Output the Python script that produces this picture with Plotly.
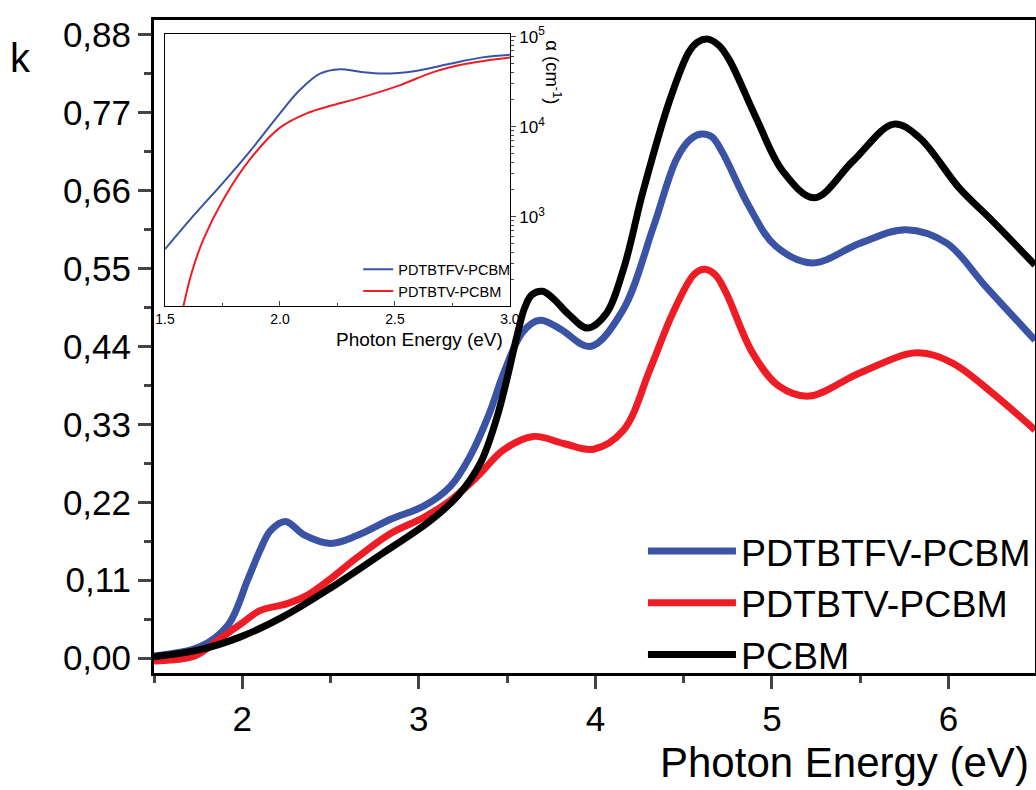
import plotly.graph_objects as go

# ---------------- main plot data (k vs photon energy) ----------------
x_fv = [1.50, 1.76, 1.92, 2.03, 2.10, 2.16, 2.245, 2.35, 2.50, 2.65, 2.84, 3.03, 3.18, 3.29, 3.40, 3.48,
        3.59, 3.686, 3.80, 3.97, 4.155, 4.33, 4.46, 4.54, 4.60, 4.66, 4.72, 4.87, 5.02, 5.23, 5.50, 5.76, 5.99, 6.21, 6.49]
k_fv = [0.003, 0.016, 0.047, 0.110, 0.152, 0.180, 0.193, 0.174, 0.162, 0.173, 0.196, 0.215, 0.243, 0.285, 0.346, 0.402,
        0.461, 0.477, 0.465, 0.440, 0.491, 0.610, 0.705, 0.733, 0.740, 0.736, 0.714, 0.638, 0.582, 0.558, 0.586, 0.605, 0.586, 0.525, 0.449]

x_tv = [1.50, 1.73, 1.86, 1.99, 2.10, 2.255, 2.37, 2.50, 2.65, 2.84, 3.03, 3.18, 3.33, 3.48, 3.65, 3.82,
        3.99, 4.16, 4.31, 4.44, 4.56, 4.62, 4.68, 4.74, 4.89, 5.04, 5.21, 5.50, 5.82, 6.02, 6.25, 6.49]
k_tv = [-0.004, 0.003, 0.025, 0.048, 0.067, 0.077, 0.089, 0.112, 0.142, 0.176, 0.199, 0.223, 0.256, 0.294, 0.313, 0.303,
        0.295, 0.322, 0.408, 0.488, 0.542, 0.549, 0.541, 0.516, 0.431, 0.384, 0.370, 0.403, 0.431, 0.417, 0.374, 0.322]

x_pc = [1.50, 1.76, 1.99, 2.235, 2.50, 2.80, 3.05, 3.22, 3.35, 3.44, 3.50, 3.556, 3.60, 3.64, 3.70, 3.76, 3.85,
        3.955, 4.06, 4.16, 4.27, 4.42, 4.53, 4.58, 4.637, 4.70, 4.76, 4.91, 5.06, 5.24, 5.46, 5.69, 5.835, 6.06, 6.25, 6.49]
k_pc = [0.002, 0.012, 0.030, 0.059, 0.099, 0.149, 0.191, 0.229, 0.276, 0.338, 0.395, 0.455, 0.495, 0.513, 0.518, 0.508, 0.485,
        0.466, 0.486, 0.550, 0.659, 0.787, 0.856, 0.870, 0.874, 0.865, 0.844, 0.763, 0.688, 0.650, 0.702, 0.754, 0.735, 0.664, 0.617, 0.555]

# ---------------- inset data (absorption coefficient, cm^-1) ----------------
xi_fv = [1.50, 1.623, 1.753, 1.87, 2.00, 2.087, 2.174, 2.261, 2.348, 2.45, 2.59, 2.74, 2.88, 3.00]
a_fv = [437, 1023, 2400, 5370, 14100, 25700, 38900, 43600, 40700, 38900, 41700, 50100, 58900, 63100]

xi_tv = [1.575, 1.616, 1.667, 1.753, 1.87, 2.00, 2.116, 2.232, 2.348, 2.52, 2.67, 2.81, 3.00]
a_tv = [89, 240, 562, 1550, 4370, 9770, 14100, 17400, 20900, 28800, 40700, 50100, 58900]

# ---------------- tick labels ----------------
k_ticks = [0.00, 0.11, 0.22, 0.33, 0.44, 0.55, 0.66, 0.77, 0.88]
k_ticktext = ["0,00", "0,11", "0,22", "0,33", "0,44", "0,55", "0,66", "0,77", "0,88"]
e_ticks = [2, 3, 4, 5, 6]
a_ticks = [1e3, 1e4, 1e5]
a_ticktext = ["10<sup>3</sup>", "10<sup>4</sup>", "10<sup>5</sup>"]

names = ["PDTBTFV-PCBM", "PDTBTV-PCBM", "PCBM"]
BLUE, RED, BLACK = "#3A53A4", "#EE1D25", "#000000"
FONT = "Liberation Sans, Arial, sans-serif"

fig = go.Figure()
fig.add_trace(go.Scatter(x=x_fv, y=k_fv, mode="lines", name=names[0], line=dict(color=BLUE, width=7, shape="spline", smoothing=1.0)))
fig.add_trace(go.Scatter(x=x_tv, y=k_tv, mode="lines", name=names[1], line=dict(color=RED, width=7, shape="spline", smoothing=1.0)))
fig.add_trace(go.Scatter(x=x_pc, y=k_pc, mode="lines", name=names[2], line=dict(color=BLACK, width=7, shape="spline", smoothing=1.0)))

fig.add_trace(go.Scatter(x=xi_fv, y=a_fv, mode="lines", name=names[0], xaxis="x2", yaxis="y2", legend="legend2",
                         line=dict(color=BLUE, width=2, shape="spline", smoothing=1.0)))
fig.add_trace(go.Scatter(x=xi_tv, y=a_tv, mode="lines", name=names[1], xaxis="x2", yaxis="y2", legend="legend2",
                         line=dict(color=RED, width=2, shape="spline", smoothing=1.0)))

minor_log = [m * 10 ** p for p in (2, 3, 4) for m in range(2, 10)]

fig.update_layout(
    width=1036, height=790,
    margin=dict(l=154, r=1, t=20, b=117, autoexpand=False),
    paper_bgcolor="white", plot_bgcolor="white",
    font=dict(family=FONT, color="black"),
    xaxis=dict(range=[1.5, 6.49], showgrid=False, zeroline=False,
               showline=True, linecolor="black", linewidth=3, mirror=True,
               tickmode="array", tickvals=e_ticks, ticks="outside", ticklen=13, tickwidth=3,
               tickfont=dict(size=35), ticklabelstandoff=0,
               minor=dict(dtick=0.5, tick0=1.5, ticks="outside", ticklen=7, tickwidth=3, showgrid=False)),
    yaxis=dict(range=[-0.021, 0.901], showgrid=False, zeroline=False,
               showline=True, linecolor="black", linewidth=3, mirror=True,
               tickmode="array", tickvals=k_ticks, ticktext=k_ticktext, ticks="outside", ticklen=13, tickwidth=3,
               tickfont=dict(size=35), ticklabelstandoff=0,
               minor=dict(dtick=0.055, tick0=0, ticks="outside", ticklen=7, tickwidth=3, showgrid=False)),
    xaxis2=dict(domain=[0.0125, 0.404], anchor="y2", range=[1.5, 3.0], showgrid=False, zeroline=False,
                showline=True, linecolor="black", linewidth=1, mirror=True,
                tickmode="array", tickvals=[1.5, 2.0, 2.5, 3.0], tickformat=".1f",
                ticks="inside", ticklen=5, tickwidth=1, tickfont=dict(size=14),
                minor=dict(dtick=0.25, tick0=1.5, ticks="inside", ticklen=3, tickwidth=1, showgrid=False)),
    yaxis2=dict(domain=[0.562, 0.9786], anchor="x2", side="right", type="log", range=[2.01, 5.03],
                showgrid=False, zeroline=False, showline=True, linecolor="black", linewidth=1, mirror=True,
                tickmode="array", tickvals=a_ticks, ticktext=a_ticktext,
                ticks="outside", ticklen=5, tickwidth=1, tickfont=dict(size=17),
                minor=dict(tickmode="array", tickvals=minor_log, ticks="outside", ticklen=3, tickwidth=1, showgrid=False)),
    legend=dict(x=0.555, y=-0.02, xanchor="left", yanchor="bottom", bgcolor="rgba(0,0,0,0)",
                font=dict(size=37.5), itemwidth=88, tracegroupgap=0),
    legend2=dict(x=0.41, y=0.56, xanchor="right", yanchor="bottom", bgcolor="rgba(0,0,0,0)",
                 font=dict(size=14.5), itemwidth=30, tracegroupgap=0),
    annotations=[
        dict(text="k", xref="paper", yref="paper", x=-0.152, y=0.942, xanchor="center", yanchor="middle",
             showarrow=False, font=dict(size=40)),
        dict(text="Photon Energy (eV)", xref="paper", yref="paper", x=0.9955, y=-0.1755, xanchor="right", yanchor="bottom",
             showarrow=False, font=dict(size=42)),
        dict(text="Photon Energy (eV)", xref="paper", yref="paper", x=0.3984, y=0.51, xanchor="right", yanchor="middle",
             showarrow=False, font=dict(size=19)),
        dict(text="α (cm<sup>-1</sup>)", xref="paper", yref="paper", x=0.453, y=0.920, xanchor="center", yanchor="middle",
             textangle=90, showarrow=False, font=dict(size=18.5)),
    ],
)

fig.write_html("out.html")
